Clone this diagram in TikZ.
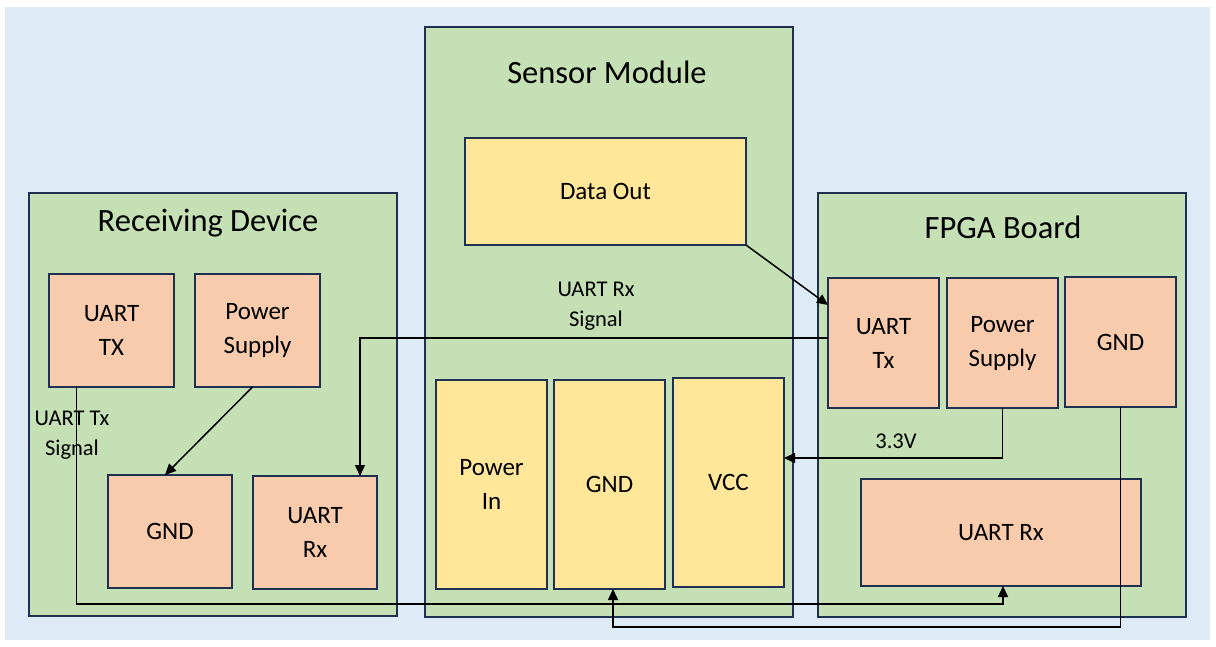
\documentclass[tikz,border=0pt]{standalone}
\usepackage{fontspec}
\setmainfont{Carlito}
\usetikzlibrary{arrows.meta,calc}
\definecolor{bgblue}{HTML}{DEEAF6}
\definecolor{grn}{HTML}{C5E0B4}
\definecolor{peach}{HTML}{F8CBAD}
\definecolor{yel}{HTML}{FFE699}
\definecolor{navy}{HTML}{1F3050}
\tikzset{
  container/.style={draw=navy, fill=grn, line width=1.6pt},
  pbox/.style={draw=navy, fill=peach, line width=1.6pt, inner sep=0pt, outer sep=0pt, align=center, font=\fontsize{25}{34}\selectfont},
  ybox/.style={draw=navy, fill=yel, line width=1.6pt, inner sep=0pt, outer sep=0pt, align=center, font=\fontsize{25}{34}\selectfont},
  title/.style={font=\fontsize{32.5}{38}\selectfont, inner sep=0pt},
  lbl/.style={font=\fontsize{22.5}{30}\selectfont, align=center, inner sep=0pt},
  arr/.style={draw=black, line width=1.5pt, -{Triangle[length=11pt,width=10pt]}},
}
\begin{document}
\begin{tikzpicture}[x=1pt,y=-1pt]
\useasboundingbox (0,0) rectangle (1216,647);
\fill[bgblue] (5,7) rectangle (1210,640);
% containers
\draw[container] (29,193) rectangle (397,616);
\draw[container] (425,27) rectangle (793,617);
\draw[container] (818,193) rectangle (1186,617);
\node[title] (trd) at (208,223) {Receiving Device};
\node[title] (tsm) at (607,72) {Sensor Module};
\node[title] (tfp) at (1003,227) {FPGA Board};
% receiving device
\node[pbox, minimum width=125pt, minimum height=113pt] (rtx) at (111.5,330.5) {UART\\TX};
\node[pbox, minimum width=125pt, minimum height=113pt] (rps) at (257.5,330.5) {Power\\Supply};
\node[pbox, minimum width=124pt, minimum height=113pt] (rgnd) at (170,531.5) {GND};
\node[pbox, minimum width=124pt, minimum height=113pt] (rrx) at (315,532.5) {UART\\Rx};
% sensor module
\node[ybox, minimum width=281pt, minimum height=107pt] (dout) at (605.5,191.5) {Data Out};
\node[ybox, minimum width=111pt, minimum height=209pt] (pin) at (491.5,484.5) {Power\\In};
\node[ybox, minimum width=111pt, minimum height=209pt] (sgnd) at (609.5,484.5) {GND};
\node[ybox, minimum width=111pt, minimum height=209pt] (vcc) at (728.5,482.5) {VCC};
% fpga
\node[pbox, minimum width=111pt, minimum height=130pt] (ftx) at (883.5,343) {UART\\Tx};
\node[pbox, minimum width=111pt, minimum height=130pt] (fps) at (1002.5,343) {Power\\Supply};
\node[pbox, minimum width=111pt, minimum height=130pt] (fgnd) at (1120.5,342) {GND};
\node[pbox, minimum width=280pt, minimum height=107pt] (frx) at (1001,532.5) {UART Rx};
% connectors
\draw[arr] (dout.south east) -- ([yshift=38pt]ftx.west);
\draw[arr] ([yshift=5pt]ftx.west) -| ([xshift=45pt]rrx.north);
\draw[arr] ([xshift=-5pt]rps.south) -- ([xshift=-5pt]rgnd.north);
\draw[arr] ([xshift=-35pt]rtx.south) -- ++(0,217) -| ([xshift=2pt]frx.south);
\draw[arr] (fps.south) |- ([yshift=24.5pt]vcc.east);
\draw[arr] (fgnd.south) -- ++(0,220) -| ([xshift=3.5pt]sgnd.south);
% labels
\node[lbl] (lrx) at (596,306) {UART Rx\\Signal};
\node[lbl] (ltx) at (72,435) {UART Tx\\Signal};
\node[lbl] (l33) at (896,441) {3.3V};
\end{tikzpicture}
\end{document}
